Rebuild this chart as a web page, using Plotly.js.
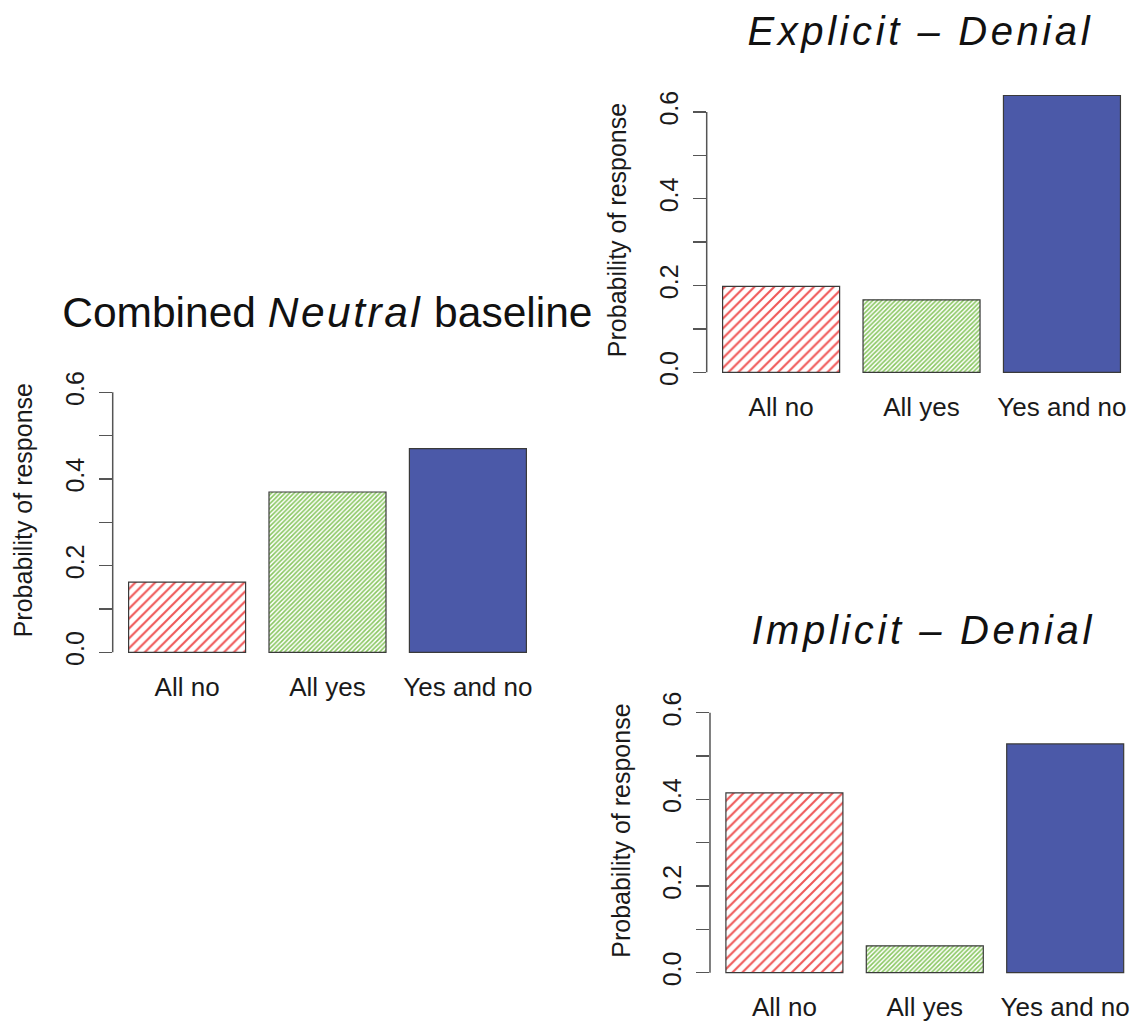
<!DOCTYPE html>
<html>
<head>
<meta charset="utf-8">
<script src="https://cdn.plot.ly/plotly-3.0.1.min.js"></script>
<style>html,body{margin:0;padding:0;background:#fff;}</style>
</head>
<body>
<div id="chart" style="width:1133px;height:1026px;"></div>
<script>
// ---- data ----
const categories = ['All no', 'All yes', 'Yes and no'];
const neutralValues = [0.162, 0.370, 0.470];
const explicitValues = [0.198, 0.167, 0.638];
const implicitValues = [0.415, 0.062, 0.528];
const yTickVals = [0, 0.1, 0.2, 0.3, 0.4, 0.5, 0.6];
const yTickText = ['0.0', '', '0.2', '', '0.4', '', '0.6'];
const panelTitles = ['Combined <i>Neutral</i> baseline', '<i>Explicit – Denial</i>', '<i>Implicit – Denial</i>'];
const yTitle = 'Probability of response';

// ---- styles ----
const FONT = 'Liberation Sans, Arial, sans-serif';
const barStyle = {
  // with per-point colours, plotly uses marker.color as the hatch line colour
  color: ['#ef5858', '#88c660', '#4b59a8'],
  line: {color: '#3a3a3a', width: 1.2},
  pattern: {
    shape: ['/', '/', ''],
    size: [7, 3.2, 8],
    solidity: [0.3, 0.5, 0.5],
    fillmode: 'replace'
  }
};

function barTrace(vals, xa, ya) {
  return {
    type: 'bar', x: categories, y: vals, xaxis: xa, yaxis: ya,
    width: 1 / 1.2, marker: barStyle, hoverinfo: 'x+y', showlegend: false
  };
}

const data = [
  barTrace(neutralValues, 'x', 'y'),
  barTrace(explicitValues, 'x2', 'y2'),
  barTrace(implicitValues, 'x3', 'y3')
];

function xAxis(domain, range, anchor) {
  return {
    domain: domain, range: range, anchor: anchor, type: 'category',
    showline: false, showgrid: false, zeroline: false, ticks: '',
    tickfont: {family: FONT, size: 26, color: '#1a1a1a'},
    ticklabelstandoff: 6, fixedrange: true
  };
}
function yAxis(domain, anchor) {
  return {
    domain: domain, range: [-0.024, 0.68], anchor: anchor,
    showline: false, showgrid: false, zeroline: false,
    ticks: 'outside', ticklen: 13, tickwidth: 1.5, tickcolor: '#555',
    tickmode: 'array', tickvals: yTickVals, ticktext: yTickText,
    tickangle: -90, tickfont: {family: FONT, size: 25, color: '#1a1a1a'},
    ticklabelstandoff: 5,
    title: {text: yTitle, font: {family: FONT, size: 25, color: '#1a1a1a'}, standoff: 20},
    fixedrange: true
  };
}

function axisLine(xa, ya) {
  return {
    type: 'line', xref: xa + ' domain', yref: ya,
    x0: 0, x1: 0, y0: yTickVals[0], y1: yTickVals[yTickVals.length - 1],
    line: {color: '#555', width: 1.5}
  };
}

function titleAnn(text, x, y, size) {
  return {
    text: text, xref: 'paper', yref: 'paper', x: x, y: y,
    xanchor: 'center', yanchor: 'middle', showarrow: false,
    font: {family: FONT, size: size, color: '#111'}
  };
}

const layout = {
  width: 1133, height: 1026,
  margin: {l: 0, r: 0, t: 0, b: 0},
  paper_bgcolor: '#fff', plot_bgcolor: '#fff',
  xaxis: xAxis([0.09947, 0.47864], [-0.53, 2.53], 'y'),
  yaxis: yAxis([0.3541, 0.6514], 'x'),
  xaxis2: xAxis([0.62374, 1], [-0.53, 2.506], 'y2'),
  yaxis2: yAxis([0.6270, 0.9247], 'x2'),
  xaxis3: xAxis([0.62665, 1], [-0.53, 2.483], 'y3'),
  yaxis3: yAxis([0.04181, 0.3391], 'x3'),
  shapes: [axisLine('x', 'y'), axisLine('x2', 'y2'), axisLine('x3', 'y3')],
  annotations: [
    titleAnn(panelTitles[0], 0.2891, 0.6955, 42.5),
    titleAnn(panelTitles[1], 0.8133, 0.9698, 40),
    titleAnn(panelTitles[2], 0.8147, 0.3860, 40)
  ]
};

Plotly.newPlot('chart', data, layout, {displayModeBar: false, staticPlot: true}).then(function () {
  // R plotmath italic titles are letter-spaced
  document.querySelectorAll('.annotation-text').forEach(function (t) {
    if (t.textContent.indexOf('Denial') >= 0) {
      t.style.letterSpacing = '3.6px';
    } else {
      t.querySelectorAll('tspan').forEach(function (s) {
        if ((s.getAttribute('style') || '').indexOf('italic') >= 0) s.style.letterSpacing = '2.5px';
      });
    }
  });
});
</script>
</body>
</html>
